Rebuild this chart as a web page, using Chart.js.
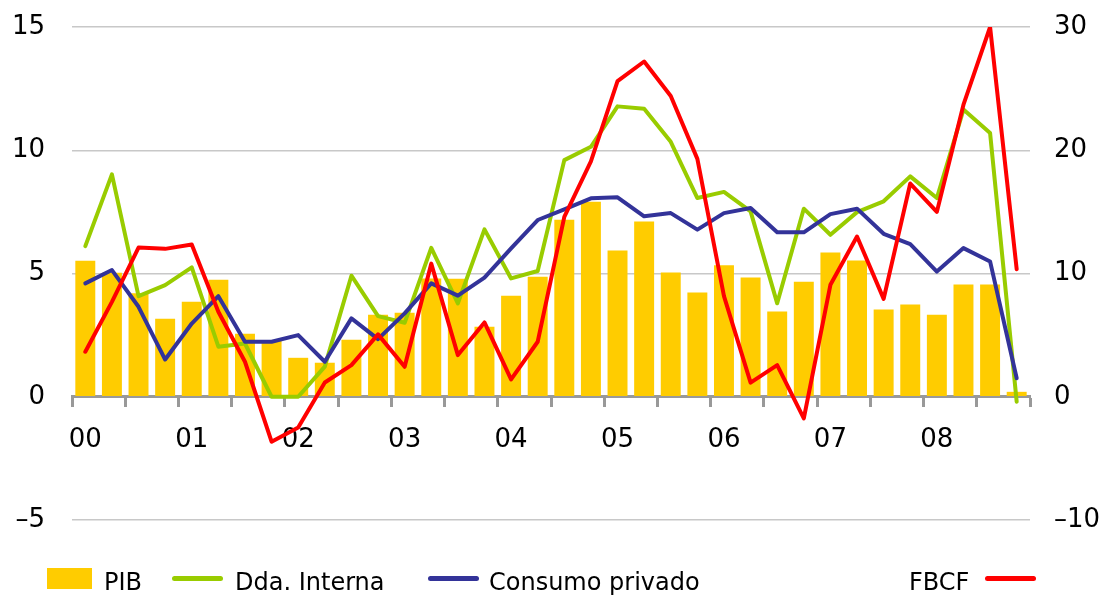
<!DOCTYPE html>
<html lang="es">
<head>
    <meta charset="UTF-8">
    <title>PIB, demanda interna, consumo privado y FBCF</title>
    <script src="https://cdn.jsdelivr.net/npm/chart.js"></script>
    <style>
        body {
            margin: 0;
            background: #fff;
            font-family: "DejaVu Sans", sans-serif;
        }
        .wrap {
            position: relative;
            width: 1110px;
            height: 597px;
        }
        #legend .item {
            position: absolute;
        }
        #legend .txt {
            font-size: 24px;
            line-height: 32px;
            top: 566px;
            color: #000;
            white-space: nowrap;
        }
        #legend .box {
            top: 568px;
            width: 45px;
            height: 21px;
        }
        #legend .ln {
            top: 576px;
            width: 51px;
            height: 5px;
            border-radius: 3px;
        }
    </style>
</head>
<body>

<div class="wrap">
    <canvas id="chart" width="1110" height="597"></canvas>
    <div id="legend"></div>
</div>

<script>
    // trimestres 2000-2008, var. % anual
    const years = ['00', '01', '02', '03', '04', '05', '06', '07', '08'];
    const quarters = ['I', 'II', 'III', 'IV'];

    // PIB (eje izq.)
    const pib = [5.52, 5.03, 4.2, 3.16, 3.85, 4.75, 2.56, 2.3, 1.58, 1.38, 2.31, 3.33,
        3.41, 4.8, 4.79, 2.84, 4.1, 4.87, 7.18, 7.91, 5.93, 7.11, 5.04, 4.23,
        5.33, 4.84, 3.46, 4.67, 5.85, 5.53, 3.54, 3.74, 3.33, 4.55, 4.55, 0.2];

    // Demanda interna (eje izq.)
    const ddaInterna = [6.11, 9.02, 4.08, 4.53, 5.25, 2.03, 2.16, 0.0, 0.0, 1.22, 4.91, 3.27,
        3.0, 6.04, 3.79, 6.79, 4.8, 5.1, 9.6, 10.14, 11.78, 11.68, 10.34, 8.06,
        8.31, 7.52, 3.79, 7.63, 6.57, 7.49, 7.93, 8.94, 8.06, 11.65, 10.7, -0.2];

    // Consumo privado (eje izq.)
    const consumo = [4.6, 5.14, 3.65, 1.51, 2.97, 4.08, 2.23, 2.23, 2.5, 1.42, 3.18, 2.34,
        3.38, 4.6, 4.1, 4.83, 6.02, 7.17, 7.6, 8.05, 8.09, 7.32, 7.45, 6.78,
        7.45, 7.66, 6.67, 6.67, 7.41, 7.63, 6.61, 6.19, 5.08, 6.03, 5.49, 0.75];

    // FBCF (eje der.)
    const fbcf = [3.65, 7.7, 12.1, 12.0, 12.36, 6.9, 2.84, -3.65, -2.5, 1.16, 2.57, 5.06,
        2.43, 10.8, 3.38, 6.03, 1.41, 4.46, 14.6, 19.1, 25.6, 27.2, 24.4, 19.3,
        8.16, 1.14, 2.57, -1.76, 9.08, 13.0, 7.94, 17.3, 15.0, 23.7, 30.0, 10.35];

    const categories = years.flatMap(y => quarters.map(q => q + ' ' + y));

    const AMARILLO = '#FFCC00';
    const VERDE = '#99CC00';
    const AZUL = '#333399';
    const ROJO = '#FF0000';
    const NADA = 'rgba(0,0,0,0)';

    const fmt = v => (v < 0 ? '\u2013' + Math.abs(v) : String(v));
    const tickFont = { family: '"DejaVu Sans", sans-serif', size: 26 };

    const lineDs = (label, data, color, axis, order) => ({
        type: 'line',
        label: label,
        data: data,
        yAxisID: axis,
        borderColor: color,
        backgroundColor: color,
        borderWidth: 4,
        pointRadius: 0,
        tension: 0,
        borderJoinStyle: 'round',
        borderCapStyle: 'round',
        order: order
    });

    const chart = new Chart(document.getElementById('chart'), {
        type: 'bar',
        data: {
            labels: categories,
            datasets: [
                {
                    label: 'PIB',
                    data: pib,
                    yAxisID: 'y',
                    backgroundColor: AMARILLO,
                    barPercentage: 0.75,
                    categoryPercentage: 1.0,
                    order: 4
                },
                lineDs('Dda. Interna', ddaInterna, VERDE, 'y', 3),
                lineDs('Consumo privado', consumo, AZUL, 'y', 2),
                lineDs('FBCF', fbcf, ROJO, 'y1', 1)
            ]
        },
        options: {
            responsive: false,
            animation: false,
            devicePixelRatio: 1,
            layout: {
                padding: { top: 27, bottom: 77, left: 0, right: 0 }
            },
            plugins: {
                legend: { display: false },
                tooltip: { enabled: false }
            },
            scales: {
                x: {
                    position: { y: 0 },
                    offset: true,
                    grid: {
                        offset: true,
                        drawOnChartArea: false,
                        drawTicks: true,
                        tickLength: 9,
                        tickWidth: 3,
                        tickColor: c => (c.type !== 'tick' || c.index % 2 === 0) ? '#999999' : NADA
                    },
                    border: { display: true, color: '#999999', width: 3 },
                    ticks: {
                        autoSkip: false,
                        maxRotation: 0,
                        minRotation: 0,
                        padding: 19,
                        color: '#000',
                        font: tickFont,
                        callback: (v, i) => (i % 4 === 0 ? years[i / 4] : '')
                    }
                },
                y: {
                    position: 'left',
                    min: -5,
                    max: 15,
                    afterFit: s => { s.width = 72; },
                    grid: {
                        drawTicks: true,
                        tickLength: 27,
                        tickColor: NADA,
                        color: c => c.tick && c.tick.value === 0 ? NADA : '#c8c8c8',
                        lineWidth: 1.5
                    },
                    border: { display: false },
                    ticks: {
                        stepSize: 5,
                        padding: 0,
                        color: '#000',
                        font: tickFont,
                        callback: fmt
                    }
                },
                y1: {
                    position: 'right',
                    min: -10,
                    max: 30,
                    afterFit: s => { s.width = 80; },
                    grid: {
                        drawOnChartArea: false,
                        drawTicks: true,
                        tickLength: 24,
                        tickColor: NADA
                    },
                    border: { display: false },
                    ticks: {
                        stepSize: 10,
                        padding: 0,
                        color: '#000',
                        font: tickFont,
                        callback: fmt
                    }
                }
            }
        }
    });

    // leyenda: posiciones horizontales de cada marca y texto
    const legendPos = [
        { mark: 47, text: 104, kind: 'box' },
        { mark: 172, text: 235, kind: 'ln' },
        { mark: 428, text: 489, kind: 'ln' },
        { mark: 985, text: 909, kind: 'ln' }
    ];
    const legend = document.getElementById('legend');
    chart.data.datasets.forEach((ds, i) => {
        const p = legendPos[i];
        const mark = document.createElement('div');
        mark.className = 'item ' + p.kind;
        mark.style.left = p.mark + 'px';
        mark.style.background = ds.backgroundColor;
        legend.appendChild(mark);
        const txt = document.createElement('div');
        txt.className = 'item txt';
        txt.style.left = p.text + 'px';
        txt.textContent = ds.label;
        legend.appendChild(txt);
    });
</script>

</body>
</html>
